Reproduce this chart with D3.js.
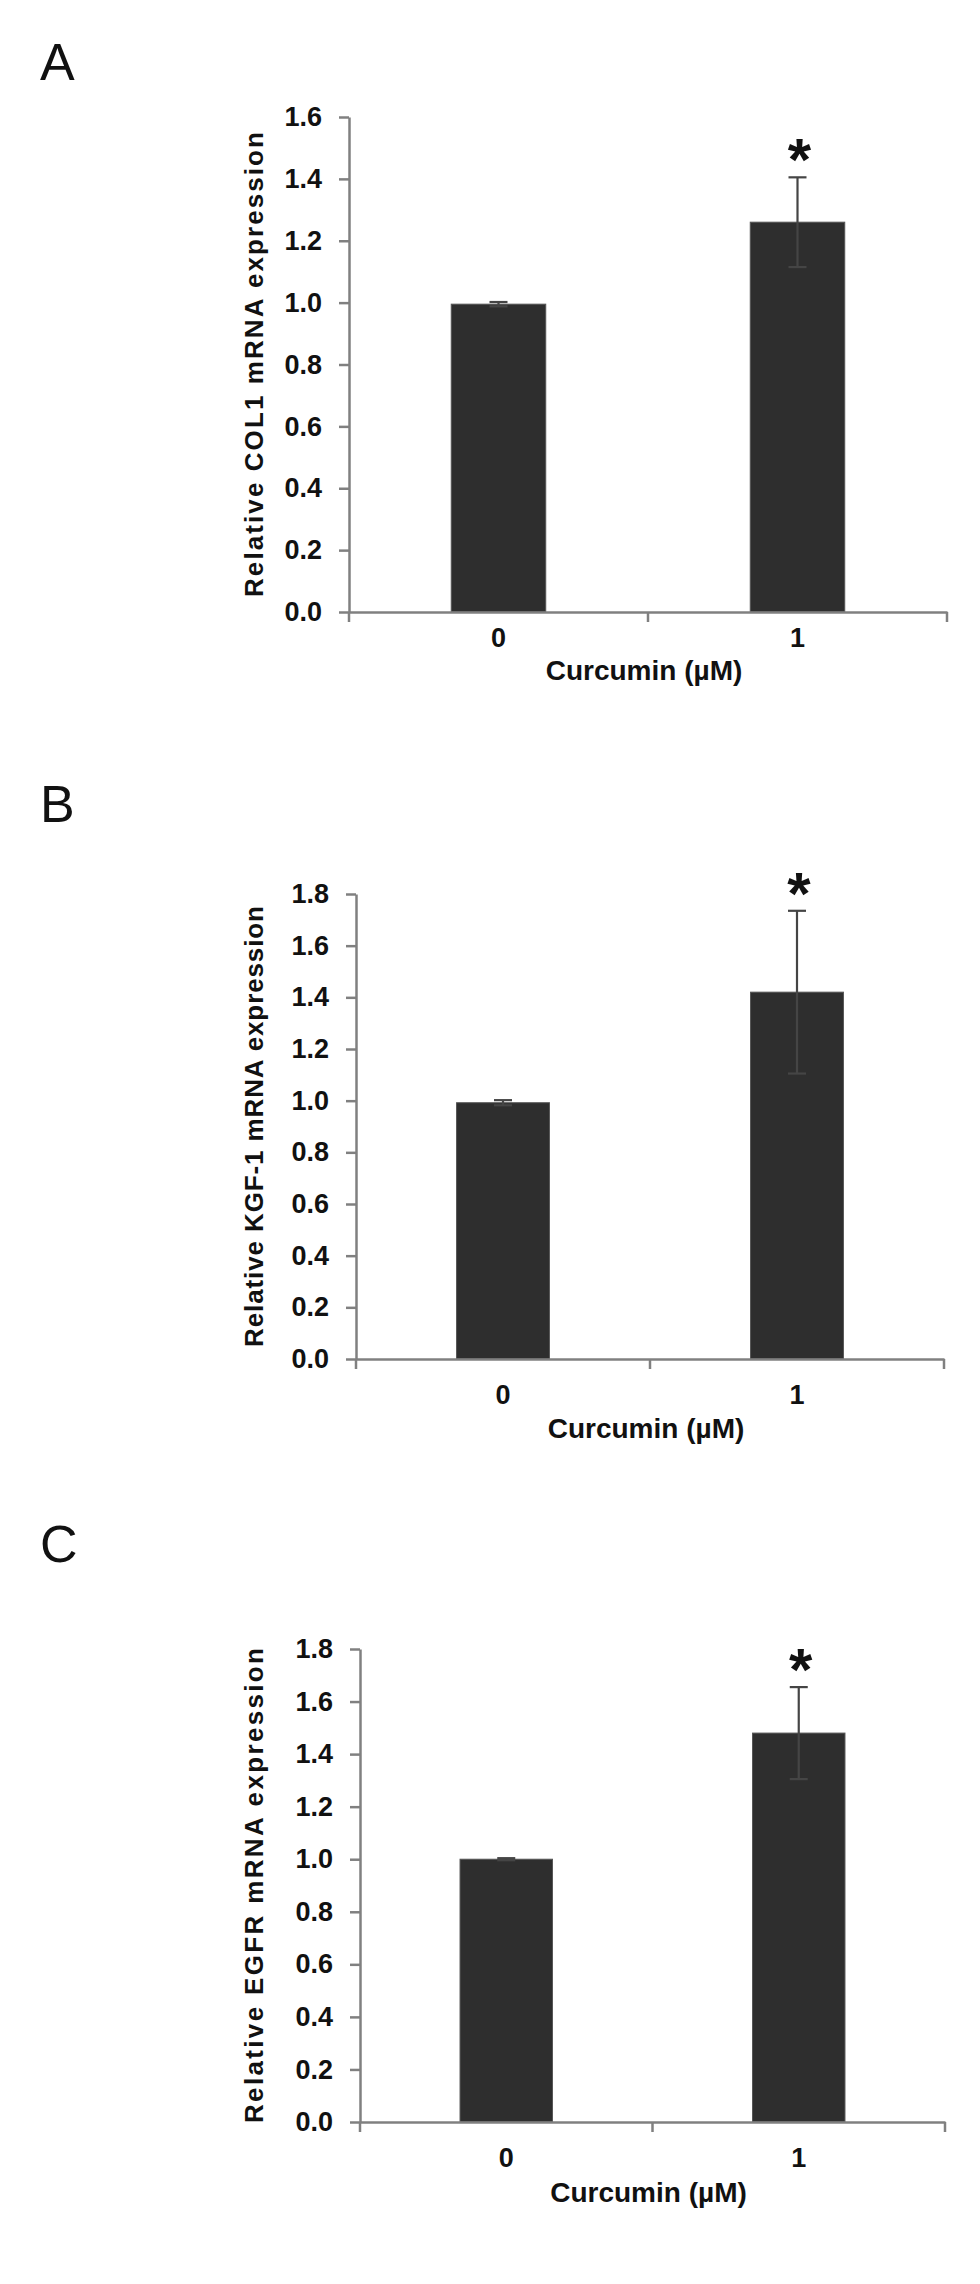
<!DOCTYPE html>
<html>
<head>
<meta charset="utf-8">
<script src="https://cdn.jsdelivr.net/npm/d3@7"></script>
<style>
  html, body { margin: 0; padding: 0; background: #fff; }
  svg { display: block; }
</style>
</head>
<body>
<div id="chart"></div>
<script>
// DATA
const panelLetters = ["A", "B", "C"];
const genes = ["COL1", "KGF-1", "EGFR"];
const doses = ["0", "1"];
const yMaxes = [1.6, 1.8, 1.8];
const colMeans = [0.995, 1.26];
const colErrors = [0.007, 0.145];
const kgfMeans = [0.992, 1.42];
const kgfErrors = [0.01, 0.315];
const egfrMeans = [1.0, 1.48];
const egfrErrors = [0.004, 0.175];
const signif = ["", "*"];
const xTitle = "Curcumin (\u00b5M)";

const means = [colMeans, kgfMeans, egfrMeans];
const errors = [colErrors, kgfErrors, egfrErrors];

// LAYOUT (pixel boxes of each panel)
const layout = [
    { left: 349, right: 947, top: 117, bottom: 612, letterY: 80, tickDy: 35, titleDy: 68, labelLen: 465 },
    { left: 356, right: 944, top: 894, bottom: 1359, letterY: 822, tickDy: 45, titleDy: 79, labelLen: 441 },
    { left: 360, right: 945, top: 1649, bottom: 2122, letterY: 1562, tickDy: 45, titleDy: 80, labelLen: 475 }
];

const W = 980, H = 2284;
const axisColor = "#808080";
const barColor = "#2e2e2e";
const errColor = "#454545";
const font = "'Liberation Sans', Arial, sans-serif";

const svg = d3.select("#chart")
    .append("svg")
    .attr("width", W)
    .attr("height", H)
    .style("font-family", font);

svg.append("rect").attr("width", W).attr("height", H).attr("fill", "#fff");

panelLetters.forEach((letter, p) => {
    const L = layout[p];
    const data = doses.map((d, i) => ({ dose: d, mean: means[p][i], err: errors[p][i], mark: signif[i] }));

    const xs = d3.scaleBand()
        .domain(doses)
        .range([L.left, L.right])
        .padding(0);

    const ys = d3.scaleLinear()
        .domain([0, yMaxes[p]])
        .range([L.bottom, L.top]);

    const g = svg.append("g").attr("class", "panel");

    // panel letter
    g.append("text")
        .attr("x", 40)
        .attr("y", L.letterY)
        .text(letter)
        .style("font-size", "52px")
        .style("fill", "#111");

    // bars
    const bw = xs.bandwidth() * 0.316;
    g.append("g")
        .selectAll("rect")
        .data(data)
        .enter()
        .append("rect")
        .attr("x", d => xs(d.dose) + (xs.bandwidth() - bw) / 2)
        .attr("y", d => ys(d.mean))
        .attr("width", bw)
        .attr("height", d => ys(0) - ys(d.mean))
        .attr("fill", barColor)
        .attr("stroke", "#555")
        .attr("stroke-width", 1);

    // error bars
    const cx = d => xs(d.dose) + xs.bandwidth() / 2;
    const eb = g.append("g").selectAll("g").data(data).enter().append("g");
    eb.append("line")
        .attr("x1", cx).attr("x2", cx)
        .attr("y1", d => ys(d.mean + d.err))
        .attr("y2", d => ys(d.mean - d.err))
        .attr("stroke", errColor)
        .attr("stroke-width", 2.2);
    [1, -1].forEach(s => {
        eb.append("line")
            .attr("x1", d => cx(d) - 9).attr("x2", d => cx(d) + 9)
            .attr("y1", d => ys(d.mean + s * d.err))
            .attr("y2", d => ys(d.mean + s * d.err))
            .attr("stroke", errColor)
            .attr("stroke-width", 2.2);
    });

    // significance
    g.append("g")
        .selectAll("text")
        .data(data.filter(d => d.mark))
        .enter()
        .append("text")
        .attr("x", d => cx(d) + 2)
        .attr("y", d => ys(d.mean + d.err) + 3)
        .attr("text-anchor", "middle")
        .text(d => d.mark)
        .style("font-size", "60px")
        .style("font-weight", "bold")
        .style("fill", "#111");

    // y axis
    const yAxis = g.append("g")
        .attr("transform", `translate(${L.left},0)`)
        .call(d3.axisLeft(ys)
            .tickValues(d3.range(0, yMaxes[p] + 0.001, 0.2))
            .tickFormat(d3.format(".1f"))
            .tickSize(10)
            .tickSizeOuter(0)
            .tickPadding(17));

    // x axis (ticks between categories)
    const xAxis = g.append("g")
        .attr("transform", `translate(0,${L.bottom})`)
        .call(d3.axisBottom(xs).tickSize(0).tickSizeOuter(0).tickPadding(L.tickDy - 19));

    [L.left, (L.left + L.right) / 2, L.right].forEach(x => {
        xAxis.append("line")
            .attr("x1", x).attr("x2", x)
            .attr("y1", 0).attr("y2", 10)
            .attr("stroke", axisColor)
            .attr("stroke-width", 2.5);
    });

    [yAxis, xAxis].forEach(a => {
        a.selectAll(".domain, .tick line")
            .attr("stroke", axisColor)
            .attr("stroke-width", 2.5);
        a.selectAll("text")
            .style("font-family", font)
            .style("font-size", "27px")
            .style("font-weight", "bold")
            .style("fill", "#111");
    });

    // x title
    g.append("text")
        .attr("x", (L.left + L.right) / 2 - 4)
        .attr("y", L.bottom + L.titleDy)
        .attr("text-anchor", "middle")
        .text(xTitle)
        .style("font-size", "28px")
        .style("font-weight", "bold")
        .style("fill", "#111");

    // y title
    g.append("text")
        .attr("transform", `translate(263,${(L.top + L.bottom) / 2}) rotate(-90)`)
        .attr("text-anchor", "middle")
        .attr("textLength", L.labelLen)
        .attr("lengthAdjust", "spacing")
        .text(`Relative ${genes[p]} mRNA expression`)
        .style("font-size", "26px")
        .style("font-weight", "bold")
        .style("fill", "#111");
});
</script>
</body>
</html>
